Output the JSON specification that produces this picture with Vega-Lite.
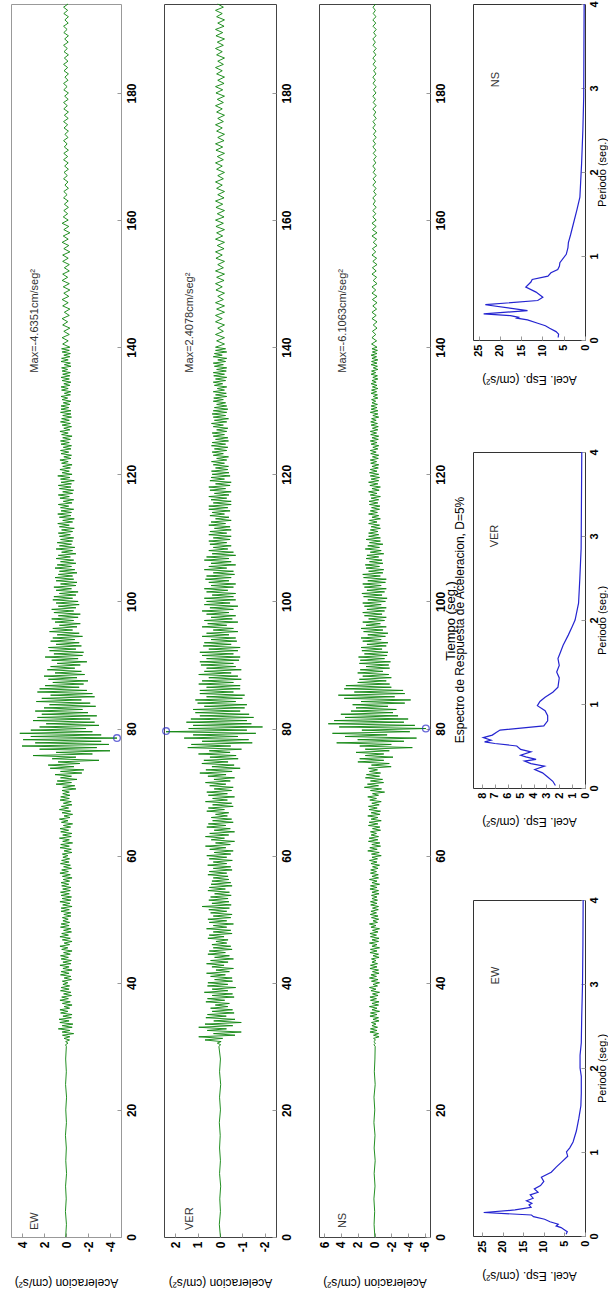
{
"$schema":"https://vega.github.io/schema/vega-lite/v6.json",
"background":"white",
"padding":{"left":10,"top":0,"right":0,"bottom":0},
"bounds":"flush",
"spacing":43,
"config":{"font":"Liberation Sans","view":{"stroke":"#555"},
"axis":{"grid":false,"domain":false,"ticks":true,"tickColor":"#999","tickSize":-4,"tickCount":20,"labelFlush":false,"labelOverlap":false,"labelFont":"Liberation Sans","titleFont":"Liberation Sans","labelFontSize":12,"titleFontSize":12,"titleFontWeight":"normal","labelFontWeight":"bold","labelColor":"#000","titleColor":"#000"},
"title":{"font":"Liberation Sans","fontSize":12,"fontWeight":"normal","color":"#000"}},
"datasets":{
"ts":[
{"t":0,"ew":0.03,"ver":-0.02,"ns":-0.04},{"t":2,"ew":-0.04,"ver":0.03,"ns":0.05},{"t":4,"ew":0.05,"ver":-0.02,"ns":-0.02},{"t":6,"ew":-0.02,"ver":0.01,"ns":0.07},{"t":8,"ew":0.04,"ver":-0.03,"ns":-0.06},{"t":10,"ew":-0.05,"ver":0.02,"ns":0.04},{"t":12,"ew":0.02,"ver":-0.02,"ns":-0.08},{"t":14,"ew":-0.03,"ver":0.02,"ns":0.04},{"t":16,"ew":0.05,"ver":-0.01,"ns":-0.06},{"t":18,"ew":-0.04,"ver":0.03,"ns":0.07},{"t":20,"ew":0.02,"ver":-0.02,"ns":-0.03},{"t":22,"ew":-0.05,"ver":0.02,"ns":0.06},{"t":24,"ew":0.04,"ver":-0.03,"ns":-0.08},{"t":26,"ew":-0.03,"ver":0.02,"ns":0.02},{"t":28,"ew":0.03,"ver":-0.02,"ns":-0.05},
{"t":30,"ew":-0.03,"ver":0.05,"ns":-0.08},{"t":30.25,"ew":0.04,"ver":-0.03,"ns":0.06},{"t":30.5,"ew":-0.18,"ver":0.12,"ns":-0.11},{"t":30.75,"ew":0.03,"ver":-0.05,"ns":0.08},{"t":31,"ew":-0.32,"ver":0.67,"ns":-0.12},{"t":31.25,"ew":0.18,"ver":-0.12,"ns":0.11},{"t":31.5,"ew":-0.35,"ver":0.95,"ns":-0.54},{"t":31.75,"ew":0.32,"ver":-0.67,"ns":0.12},{"t":32,"ew":-0.7,"ver":0.29,"ns":-0.48},{"t":32.25,"ew":0.35,"ver":-0.95,"ns":0.54},{"t":32.5,"ew":-0.35,"ver":0.57,"ns":-0.3},{"t":32.75,"ew":0.7,"ver":-0.29,"ns":0.48},{"t":33,"ew":-0.56,"ver":0.95,"ns":-0.36},{"t":33.25,"ew":0.35,"ver":-0.57,"ns":0.3},{"t":33.5,"ew":-0.63,"ver":0.67,"ns":-0.18},{"t":33.75,"ew":0.56,"ver":-0.95,"ns":0.36},{"t":34,"ew":-0.28,"ver":0.28,"ns":-0.54},{"t":34.25,"ew":0.63,"ver":-0.67,"ns":0.18},{"t":34.5,"ew":-0.49,"ver":0.63,"ns":-0.48},{"t":34.75,"ew":0.28,"ver":-0.28,"ns":0.54},
{"t":35,"ew":-0.55,"ver":0.56,"ns":-0.3},{"t":35.25,"ew":0.49,"ver":-0.63,"ns":0.48},{"t":35.5,"ew":-0.17,"ver":0.35,"ns":-0.6},{"t":35.75,"ew":0.55,"ver":-0.56,"ns":0.3},{"t":36,"ew":-0.33,"ver":0.42,"ns":-0.3},{"t":36.25,"ew":0.17,"ver":-0.35,"ns":0.6},{"t":36.5,"ew":-0.55,"ver":0.21,"ns":-0.48},{"t":36.75,"ew":0.33,"ver":-0.42,"ns":0.3},{"t":37,"ew":-0.39,"ver":0.63,"ns":-0.54},{"t":37.25,"ew":0.55,"ver":-0.21,"ns":0.48},{"t":37.5,"ew":-0.22,"ver":0.56,"ns":-0.24},{"t":37.75,"ew":0.39,"ver":-0.63,"ns":0.54},{"t":38,"ew":-0.5,"ver":0.35,"ns":-0.42},{"t":38.25,"ew":0.22,"ver":-0.56,"ns":0.24},{"t":38.5,"ew":-0.44,"ver":0.7,"ns":-0.6},{"t":38.75,"ew":0.5,"ver":-0.35,"ns":0.42},{"t":39,"ew":-0.28,"ver":0.35,"ns":-0.18},{"t":39.25,"ew":0.44,"ver":-0.7,"ns":0.6},{"t":39.5,"ew":-0.33,"ver":0.56,"ns":-0.36},{"t":39.75,"ew":0.28,"ver":-0.35,"ns":0.18},
{"t":40,"ew":-0.17,"ver":0.54,"ns":-0.6},{"t":40.25,"ew":0.33,"ver":-0.56,"ns":0.36},{"t":40.5,"ew":-0.5,"ver":0.24,"ns":-0.42},{"t":40.75,"ew":0.17,"ver":-0.54,"ns":0.6},{"t":41,"ew":-0.44,"ver":0.42,"ns":-0.24},{"t":41.25,"ew":0.5,"ver":-0.24,"ns":0.42},{"t":41.5,"ew":-0.28,"ver":0.6,"ns":-0.54},{"t":41.75,"ew":0.44,"ver":-0.42,"ns":0.24},{"t":42,"ew":-0.55,"ver":0.18,"ns":-0.48},{"t":42.25,"ew":0.28,"ver":-0.6,"ns":0.54},{"t":42.5,"ew":-0.28,"ver":0.36,"ns":-0.3},{"t":42.75,"ew":0.55,"ver":-0.18,"ns":0.48},{"t":43,"ew":-0.44,"ver":0.6,"ns":-0.36},{"t":43.25,"ew":0.28,"ver":-0.36,"ns":0.3},{"t":43.5,"ew":-0.5,"ver":0.42,"ns":-0.18},{"t":43.75,"ew":0.44,"ver":-0.6,"ns":0.36},{"t":44,"ew":-0.22,"ver":0.24,"ns":-0.54},{"t":44.25,"ew":0.5,"ver":-0.42,"ns":0.18},{"t":44.5,"ew":-0.39,"ver":0.54,"ns":-0.48},{"t":44.75,"ew":0.22,"ver":-0.24,"ns":0.54},
{"t":45,"ew":-0.55,"ver":0.48,"ns":-0.3},{"t":45.25,"ew":0.39,"ver":-0.54,"ns":0.48},{"t":45.5,"ew":-0.17,"ver":0.3,"ns":-0.6},{"t":45.75,"ew":0.55,"ver":-0.48,"ns":0.3},{"t":46,"ew":-0.33,"ver":0.36,"ns":-0.3},{"t":46.25,"ew":0.17,"ver":-0.3,"ns":0.6},{"t":46.5,"ew":-0.55,"ver":0.18,"ns":-0.48},{"t":46.75,"ew":0.33,"ver":-0.36,"ns":0.3},{"t":47,"ew":-0.39,"ver":0.54,"ns":-0.54},{"t":47.25,"ew":0.55,"ver":-0.18,"ns":0.48},{"t":47.5,"ew":-0.22,"ver":0.48,"ns":-0.24},{"t":47.75,"ew":0.39,"ver":-0.54,"ns":0.54},{"t":48,"ew":-0.5,"ver":0.3,"ns":-0.42},{"t":48.25,"ew":0.22,"ver":-0.48,"ns":0.24},{"t":48.5,"ew":-0.44,"ver":0.6,"ns":-0.6},{"t":48.75,"ew":0.5,"ver":-0.3,"ns":0.42},{"t":49,"ew":-0.28,"ver":0.3,"ns":-0.18},{"t":49.25,"ew":0.44,"ver":-0.6,"ns":0.6},{"t":49.5,"ew":-0.33,"ver":0.48,"ns":-0.36},{"t":49.75,"ew":0.28,"ver":-0.3,"ns":0.18},
{"t":50,"ew":-0.2,"ver":0.54,"ns":-0.5},{"t":50.25,"ew":0.33,"ver":-0.48,"ns":0.36},{"t":50.5,"ew":-0.45,"ver":0.3,"ns":-0.42},{"t":50.75,"ew":0.2,"ver":-0.54,"ns":0.5},{"t":51,"ew":-0.44,"ver":0.42,"ns":-0.24},{"t":51.25,"ew":0.45,"ver":-0.3,"ns":0.42},{"t":51.5,"ew":-0.3,"ver":0.5,"ns":-0.45},{"t":51.75,"ew":0.44,"ver":-0.42,"ns":0.24},{"t":52,"ew":-0.55,"ver":0.8,"ns":-0.48},{"t":52.25,"ew":0.3,"ver":-0.5,"ns":0.45},{"t":52.5,"ew":-0.35,"ver":0.36,"ns":-0.3},{"t":52.75,"ew":0.55,"ver":-0.4,"ns":0.48},{"t":53,"ew":-0.44,"ver":0.5,"ns":-0.36},{"t":53.25,"ew":0.35,"ver":-0.36,"ns":0.3},{"t":53.5,"ew":-0.5,"ver":0.42,"ns":-0.3},{"t":53.75,"ew":0.44,"ver":-0.5,"ns":0.36},{"t":54,"ew":-0.3,"ver":0.24,"ns":-0.54},{"t":54.25,"ew":0.5,"ver":-0.42,"ns":0.3},{"t":54.5,"ew":-0.39,"ver":0.54,"ns":-0.48},{"t":54.75,"ew":0.3,"ver":-0.24,"ns":0.54},
{"t":55,"ew":-0.45,"ver":0.48,"ns":-0.3},{"t":55.25,"ew":0.39,"ver":-0.54,"ns":0.48},{"t":55.5,"ew":-0.25,"ver":0.4,"ns":-0.6},{"t":55.75,"ew":0.45,"ver":-0.48,"ns":0.3},{"t":56,"ew":-0.33,"ver":0.36,"ns":-0.3},{"t":56.25,"ew":0.25,"ver":-0.4,"ns":0.6},{"t":56.5,"ew":-0.55,"ver":0.3,"ns":-0.48},{"t":56.75,"ew":0.33,"ver":-0.36,"ns":0.3},{"t":57,"ew":-0.39,"ver":0.54,"ns":-0.45},{"t":57.25,"ew":0.55,"ver":-0.3,"ns":0.48},{"t":57.5,"ew":-0.22,"ver":0.48,"ns":-0.24},{"t":57.75,"ew":0.39,"ver":-0.54,"ns":0.45},{"t":58,"ew":-0.5,"ver":0.3,"ns":-0.42},{"t":58.25,"ew":0.22,"ver":-0.48,"ns":0.24},{"t":58.5,"ew":-0.4,"ver":0.55,"ns":-0.6},{"t":58.75,"ew":0.5,"ver":-0.3,"ns":0.42},{"t":59,"ew":-0.28,"ver":0.3,"ns":-0.3},{"t":59.25,"ew":0.4,"ver":-0.55,"ns":0.6},{"t":59.5,"ew":-0.33,"ver":0.48,"ns":-0.36},{"t":59.75,"ew":0.28,"ver":-0.3,"ns":0.3},
{"t":60,"ew":-0.18,"ver":0.59,"ns":-0.8},{"t":60.25,"ew":0.33,"ver":-0.48,"ns":0.36},{"t":60.5,"ew":-0.54,"ver":0.26,"ns":-0.56},{"t":60.75,"ew":0.18,"ver":-0.59,"ns":0.8},{"t":61,"ew":-0.48,"ver":0.46,"ns":-0.32},{"t":61.25,"ew":0.54,"ver":-0.26,"ns":0.56},{"t":61.5,"ew":-0.3,"ver":0.65,"ns":-0.72},{"t":61.75,"ew":0.48,"ver":-0.46,"ns":0.32},{"t":62,"ew":-0.6,"ver":0.2,"ns":-0.64},{"t":62.25,"ew":0.3,"ver":-0.65,"ns":0.72},{"t":62.5,"ew":-0.3,"ver":0.39,"ns":-0.4},{"t":62.75,"ew":0.6,"ver":-0.2,"ns":0.64},{"t":63,"ew":-0.48,"ver":0.65,"ns":-0.48},{"t":63.25,"ew":0.3,"ver":-0.39,"ns":0.4},{"t":63.5,"ew":-0.54,"ver":0.46,"ns":-0.24},{"t":63.75,"ew":0.48,"ver":-0.65,"ns":0.48},{"t":64,"ew":-0.24,"ver":0.26,"ns":-0.72},{"t":64.25,"ew":0.54,"ver":-0.46,"ns":0.24},{"t":64.5,"ew":-0.42,"ver":0.59,"ns":-0.64},{"t":64.75,"ew":0.24,"ver":-0.26,"ns":0.72},
{"t":65,"ew":-0.6,"ver":0.52,"ns":-0.4},{"t":65.25,"ew":0.42,"ver":-0.59,"ns":0.64},{"t":65.5,"ew":-0.18,"ver":0.33,"ns":-0.8},{"t":65.75,"ew":0.6,"ver":-0.52,"ns":0.4},{"t":66,"ew":-0.36,"ver":0.39,"ns":-0.4},{"t":66.25,"ew":0.18,"ver":-0.33,"ns":0.8},{"t":66.5,"ew":-0.6,"ver":0.2,"ns":-0.64},{"t":66.75,"ew":0.36,"ver":-0.39,"ns":0.4},{"t":67,"ew":-0.42,"ver":0.59,"ns":-0.72},{"t":67.25,"ew":0.6,"ver":-0.2,"ns":0.64},{"t":67.5,"ew":-0.24,"ver":0.52,"ns":-0.32},{"t":67.75,"ew":0.42,"ver":-0.59,"ns":0.72},{"t":68,"ew":-0.54,"ver":0.33,"ns":-0.56},{"t":68.25,"ew":0.24,"ver":-0.52,"ns":0.32},{"t":68.5,"ew":-0.48,"ver":0.65,"ns":-0.8},{"t":68.75,"ew":0.54,"ver":-0.33,"ns":0.56},{"t":69,"ew":-0.3,"ver":0.33,"ns":-0.24},{"t":69.25,"ew":0.48,"ver":-0.65,"ns":0.8},{"t":69.5,"ew":-0.36,"ver":0.52,"ns":-0.48},{"t":69.75,"ew":0.3,"ver":-0.33,"ns":0.24},
{"t":70,"ew":-0.3,"ver":0.59,"ns":-1.2},{"t":70.25,"ew":0.36,"ver":-0.52,"ns":0.48},{"t":70.5,"ew":-0.9,"ver":0.26,"ns":-0.84},{"t":70.75,"ew":0.3,"ver":-0.59,"ns":1.2},{"t":71,"ew":-0.8,"ver":0.46,"ns":-0.48},{"t":71.25,"ew":0.9,"ver":-0.26,"ns":0.84},{"t":71.5,"ew":-0.5,"ver":0.65,"ns":-1.08},{"t":71.75,"ew":0.8,"ver":-0.46,"ns":0.48},{"t":72,"ew":-1.0,"ver":0.27,"ns":-0.96},{"t":72.25,"ew":0.5,"ver":-0.65,"ns":1.08},{"t":72.5,"ew":-0.5,"ver":0.54,"ns":-0.6},{"t":72.75,"ew":1.0,"ver":-0.27,"ns":0.96},{"t":73,"ew":-1.44,"ver":0.9,"ns":-0.72},{"t":73.25,"ew":0.5,"ver":-0.54,"ns":0.6},{"t":73.5,"ew":-1.62,"ver":0.63,"ns":-0.36},{"t":73.75,"ew":1.44,"ver":-0.9,"ns":0.72},{"t":74,"ew":-0.72,"ver":0.36,"ns":-1.98},{"t":74.25,"ew":1.62,"ver":-0.63,"ns":0.36},{"t":74.5,"ew":-1.26,"ver":0.81,"ns":-1.76},{"t":74.75,"ew":0.72,"ver":-0.36,"ns":1.98},
{"t":75,"ew":-3.0,"ver":0.72,"ns":-1.1},{"t":75.25,"ew":1.26,"ver":-0.81,"ns":1.76},{"t":75.5,"ew":-0.9,"ver":0.45,"ns":-2.2},{"t":75.75,"ew":3.0,"ver":-0.72,"ns":1.1},{"t":76,"ew":-2.4,"ver":0.96,"ns":-1.1},{"t":76.25,"ew":0.9,"ver":-0.45,"ns":2.2},{"t":76.5,"ew":-4.0,"ver":0.48,"ns":-1.76},{"t":76.75,"ew":2.4,"ver":-0.96,"ns":1.1},{"t":77,"ew":-2.8,"ver":1.44,"ns":-4.5},{"t":77.25,"ew":4.0,"ver":-0.48,"ns":1.76},{"t":77.5,"ew":-3.9,"ver":1.28,"ns":-2.0},{"t":77.75,"ew":2.8,"ver":-1.44,"ns":4.5},{"t":78,"ew":-3.2,"ver":0.8,"ns":-3.5},{"t":78.25,"ew":3.9,"ver":-1.28,"ns":2.0},{"t":78.5,"ew":-4.6351,"ver":1.6,"ns":-5.0},{"t":78.75,"ew":3.2,"ver":-0.8,"ns":3.5},{"t":79,"ew":-3.2,"ver":1.2,"ns":-1.5},{"t":79.25,"ew":4.2,"ver":-1.6,"ns":5.0},{"t":79.5,"ew":-2.4,"ver":2.4078,"ns":-4.2},{"t":79.75,"ew":3.2,"ver":-1.2,"ns":1.5},
{"t":80,"ew":-1.8,"ver":1.4,"ns":-6.1063},{"t":80.25,"ew":2.4,"ver":-1.9,"ns":4.2},{"t":80.5,"ew":-3.0,"ver":1.2,"ns":-4.8},{"t":80.75,"ew":1.8,"ver":-1.4,"ns":5.5},{"t":81,"ew":-2.6,"ver":1.5,"ns":-3.5},{"t":81.25,"ew":3.0,"ver":-1.2,"ns":4.8},{"t":81.5,"ew":-2.2,"ver":1.3,"ns":-4.0},{"t":81.75,"ew":2.6,"ver":-1.5,"ns":3.5},{"t":82,"ew":-2.8,"ver":0.9,"ns":-2.8},{"t":82.25,"ew":2.2,"ver":-1.3,"ns":4.0},{"t":82.5,"ew":-2.0,"ver":1.1,"ns":-2.2},{"t":82.75,"ew":2.8,"ver":-0.9,"ns":2.8},{"t":83,"ew":-1.5,"ver":1.2,"ns":-2.6},{"t":83.25,"ew":2.0,"ver":-1.1,"ns":2.2},{"t":83.5,"ew":-2.7,"ver":0.7,"ns":-1.6},{"t":83.75,"ew":1.5,"ver":-1.2,"ns":2.6},{"t":84,"ew":-2.2,"ver":1.0,"ns":-3.6},{"t":84.25,"ew":2.7,"ver":-0.7,"ns":1.6},{"t":84.5,"ew":-1.4,"ver":1.1,"ns":-4.3},{"t":84.75,"ew":2.2,"ver":-1.0,"ns":3.6},
{"t":85,"ew":-2.6,"ver":0.6,"ns":-2.4},{"t":85.25,"ew":1.4,"ver":-1.1,"ns":4.3},{"t":85.5,"ew":-2.4,"ver":0.9,"ns":-3.6},{"t":85.75,"ew":2.6,"ver":-0.6,"ns":2.4},{"t":86,"ew":-1.9,"ver":0.9,"ns":-3.4},{"t":86.25,"ew":2.4,"ver":-0.9,"ns":3.6},{"t":86.5,"ew":-1.2,"ver":0.6,"ns":-2.0},{"t":86.75,"ew":1.9,"ver":-0.9,"ns":3.4},{"t":87,"ew":-1.6,"ver":0.95,"ns":-1.8},{"t":87.25,"ew":1.2,"ver":-0.6,"ns":2.0},{"t":87.5,"ew":-2.0,"ver":0.8,"ns":-1.4},{"t":87.75,"ew":1.6,"ver":-0.95,"ns":1.8},{"t":88,"ew":-1.0,"ver":0.5,"ns":-2.0},{"t":88.25,"ew":2.0,"ver":-0.8,"ns":1.4},{"t":88.5,"ew":-1.7,"ver":0.95,"ns":-1.7},{"t":88.75,"ew":1.0,"ver":-0.5,"ns":2.0},{"t":89,"ew":-1.4,"ver":0.7,"ns":-1.0},{"t":89.25,"ew":1.7,"ver":-0.95,"ns":1.7},{"t":89.5,"ew":-0.8,"ver":0.6,"ns":-1.8},{"t":89.75,"ew":1.4,"ver":-0.7,"ns":1.0},
{"t":90,"ew":-1.3,"ver":0.85,"ns":-1.7},{"t":90.25,"ew":0.8,"ver":-0.6,"ns":1.8},{"t":90.5,"ew":-1.9,"ver":0.9,"ns":-1.9},{"t":90.75,"ew":1.3,"ver":-0.85,"ns":1.7},{"t":91,"ew":-1.1,"ver":0.6,"ns":-1.2},{"t":91.25,"ew":1.9,"ver":-0.9,"ns":1.9},{"t":91.5,"ew":-1.5,"ver":0.8,"ns":-1.5},{"t":91.75,"ew":1.1,"ver":-0.6,"ns":1.2},{"t":92,"ew":-1.6,"ver":0.9,"ns":-1.6},{"t":92.25,"ew":1.5,"ver":-0.8,"ns":1.5},{"t":92.5,"ew":-0.9,"ver":0.5,"ns":-0.9},{"t":92.75,"ew":1.6,"ver":-0.9,"ns":1.6},{"t":93,"ew":-1.4,"ver":0.75,"ns":-1.4},{"t":93.25,"ew":0.9,"ver":-0.5,"ns":0.9},{"t":93.5,"ew":-1.2,"ver":0.7,"ns":-1.6},{"t":93.75,"ew":1.4,"ver":-0.75,"ns":1.4},{"t":94,"ew":-0.8,"ver":0.4,"ns":-0.8},{"t":94.25,"ew":1.2,"ver":-0.7,"ns":1.6},{"t":94.5,"ew":-1.5,"ver":0.8,"ns":-1.3},{"t":94.75,"ew":0.8,"ver":-0.4,"ns":0.8},
{"t":95,"ew":-1.2,"ver":0.6,"ns":-1.6},{"t":95.25,"ew":1.5,"ver":-0.8,"ns":1.3},{"t":95.5,"ew":-0.6,"ver":0.3,"ns":-1.0},{"t":95.75,"ew":1.2,"ver":-0.6,"ns":1.6},{"t":96,"ew":-1.0,"ver":0.8,"ns":-1.4},{"t":96.25,"ew":0.6,"ver":-0.3,"ns":1.0},{"t":96.5,"ew":-1.3,"ver":0.55,"ns":-0.7},{"t":96.75,"ew":1.0,"ver":-0.8,"ns":1.4},{"t":97,"ew":-0.7,"ver":0.7,"ns":-1.2},{"t":97.25,"ew":1.3,"ver":-0.55,"ns":0.7},{"t":97.5,"ew":-1.1,"ver":0.4,"ns":-1.4},{"t":97.75,"ew":0.7,"ver":-0.7,"ns":1.2},{"t":98,"ew":-1.3,"ver":0.6,"ns":-0.9},{"t":98.25,"ew":1.1,"ver":-0.4,"ns":1.4},{"t":98.5,"ew":-0.7,"ver":0.8,"ns":-1.2},{"t":98.75,"ew":1.3,"ver":-0.6,"ns":0.9},{"t":99,"ew":-0.9,"ver":0.45,"ns":-1.4},{"t":99.25,"ew":0.7,"ver":-0.8,"ns":1.2},{"t":99.5,"ew":-1.2,"ver":0.7,"ns":-0.8},{"t":99.75,"ew":0.9,"ver":-0.45,"ns":1.4},
{"t":100,"ew":-1.1,"ver":0.6,"ns":-1.3},{"t":100.25,"ew":1.2,"ver":-0.7,"ns":0.8},{"t":100.5,"ew":-0.6,"ver":0.7,"ns":-1.5},{"t":100.75,"ew":1.1,"ver":-0.6,"ns":1.3},{"t":101,"ew":-0.9,"ver":0.35,"ns":-0.9},{"t":101.25,"ew":0.6,"ver":-0.7,"ns":1.5},{"t":101.5,"ew":-1.1,"ver":0.6,"ns":-1.2},{"t":101.75,"ew":0.9,"ver":-0.35,"ns":0.9},{"t":102,"ew":-0.5,"ver":0.7,"ns":-1.4},{"t":102.25,"ew":1.1,"ver":-0.6,"ns":1.2},{"t":102.5,"ew":-0.9,"ver":0.4,"ns":-0.8},{"t":102.75,"ew":0.5,"ver":-0.7,"ns":1.4},{"t":103,"ew":-1.0,"ver":0.5,"ns":-1.3},{"t":103.25,"ew":0.9,"ver":-0.4,"ns":0.8},{"t":103.5,"ew":-0.7,"ver":0.65,"ns":-1.4},{"t":103.75,"ew":1.0,"ver":-0.5,"ns":1.3},{"t":104,"ew":-0.6,"ver":0.6,"ns":-0.7},{"t":104.25,"ew":0.7,"ver":-0.65,"ns":1.4},{"t":104.5,"ew":-1.0,"ver":0.3,"ns":-1.0},{"t":104.75,"ew":0.6,"ver":-0.6,"ns":0.7},
{"t":105,"ew":-0.8,"ver":0.7,"ns":-1.1},{"t":105.25,"ew":1.0,"ver":-0.3,"ns":1.0},{"t":105.5,"ew":-0.5,"ver":0.5,"ns":-0.6},{"t":105.75,"ew":0.8,"ver":-0.7,"ns":1.1},{"t":106,"ew":-0.9,"ver":0.4,"ns":-1.0},{"t":106.25,"ew":0.5,"ver":-0.5,"ns":0.6},{"t":106.5,"ew":-0.7,"ver":0.7,"ns":-0.9},{"t":106.75,"ew":0.9,"ver":-0.4,"ns":1.0},{"t":107,"ew":-0.4,"ver":0.6,"ns":-0.5},{"t":107.25,"ew":0.7,"ver":-0.7,"ns":0.9},{"t":107.5,"ew":-0.9,"ver":0.35,"ns":-1.1},{"t":107.75,"ew":0.4,"ver":-0.6,"ns":0.5},{"t":108,"ew":-0.6,"ver":0.5,"ns":-0.8},{"t":108.25,"ew":0.9,"ver":-0.35,"ns":1.1},{"t":108.5,"ew":-0.8,"ver":0.3,"ns":-0.6},{"t":108.75,"ew":0.6,"ver":-0.5,"ns":0.8},{"t":109,"ew":-0.5,"ver":0.45,"ns":-1.0},{"t":109.25,"ew":0.8,"ver":-0.3,"ns":0.6},{"t":109.5,"ew":-0.6,"ver":0.5,"ns":-0.7},{"t":109.75,"ew":0.5,"ver":-0.45,"ns":1.0},
{"t":110,"ew":-0.7,"ver":0.3,"ns":-0.7},{"t":110.25,"ew":0.6,"ver":-0.5,"ns":0.7},{"t":110.5,"ew":-0.4,"ver":0.5,"ns":-0.5},{"t":110.75,"ew":0.7,"ver":-0.3,"ns":0.7},{"t":111,"ew":-0.6,"ver":0.45,"ns":-0.4},{"t":111.25,"ew":0.4,"ver":-0.5,"ns":0.5},{"t":111.5,"ew":-0.75,"ver":0.25,"ns":-0.7},{"t":111.75,"ew":0.6,"ver":-0.45,"ns":0.4},{"t":112,"ew":-0.3,"ver":0.5,"ns":-0.6},{"t":112.25,"ew":0.75,"ver":-0.25,"ns":0.7},{"t":112.5,"ew":-0.6,"ver":0.4,"ns":-0.3},{"t":112.75,"ew":0.3,"ver":-0.5,"ns":0.6},{"t":113,"ew":-0.75,"ver":0.2,"ns":-0.7},{"t":113.25,"ew":0.6,"ver":-0.4,"ns":0.3},{"t":113.5,"ew":-0.45,"ver":0.45,"ns":-0.5},{"t":113.75,"ew":0.75,"ver":-0.2,"ns":0.7},{"t":114,"ew":-0.5,"ver":0.35,"ns":-0.35},{"t":114.25,"ew":0.45,"ver":-0.45,"ns":0.5},{"t":114.5,"ew":-0.7,"ver":0.5,"ns":-0.6},{"t":114.75,"ew":0.5,"ver":-0.35,"ns":0.35},
{"t":115,"ew":-0.25,"ver":0.5,"ns":-0.65},{"t":115.25,"ew":0.7,"ver":-0.5,"ns":0.6},{"t":115.5,"ew":-0.55,"ver":0.3,"ns":-0.4},{"t":115.75,"ew":0.25,"ver":-0.5,"ns":0.65},{"t":116,"ew":-0.7,"ver":0.4,"ns":-0.5},{"t":116.25,"ew":0.55,"ver":-0.3,"ns":0.4},{"t":116.5,"ew":-0.3,"ver":0.5,"ns":-0.7},{"t":116.75,"ew":0.7,"ver":-0.4,"ns":0.5},{"t":117,"ew":-0.6,"ver":0.25,"ns":-0.3},{"t":117.25,"ew":0.3,"ver":-0.5,"ns":0.7},{"t":117.5,"ew":-0.7,"ver":0.45,"ns":-0.55},{"t":117.75,"ew":0.6,"ver":-0.25,"ns":0.3},{"t":118,"ew":-0.45,"ver":0.5,"ns":-0.7},{"t":118.25,"ew":0.7,"ver":-0.45,"ns":0.55},{"t":118.5,"ew":-0.5,"ver":0.2,"ns":-0.4},{"t":118.75,"ew":0.45,"ver":-0.5,"ns":0.7},{"t":119,"ew":-0.75,"ver":0.45,"ns":-0.5},{"t":119.25,"ew":0.5,"ver":-0.2,"ns":0.4},{"t":119.5,"ew":-0.35,"ver":0.4,"ns":-0.6},{"t":119.75,"ew":0.75,"ver":-0.45,"ns":0.5},
{"t":120,"ew":-0.55,"ver":0.35,"ns":-0.5},{"t":120.25,"ew":0.35,"ver":-0.4,"ns":0.6},{"t":120.5,"ew":-0.3,"ver":0.38,"ns":-0.3},{"t":120.75,"ew":0.55,"ver":-0.35,"ns":0.5},{"t":121,"ew":-0.4,"ver":0.2,"ns":-0.45},{"t":121.25,"ew":0.3,"ver":-0.38,"ns":0.3},{"t":121.5,"ew":-0.55,"ver":0.3,"ns":-0.5},{"t":121.75,"ew":0.4,"ver":-0.2,"ns":0.45},{"t":122,"ew":-0.2,"ver":0.38,"ns":-0.25},{"t":122.25,"ew":0.55,"ver":-0.3,"ns":0.5},{"t":122.5,"ew":-0.45,"ver":0.15,"ns":-0.45},{"t":122.75,"ew":0.2,"ver":-0.38,"ns":0.25},{"t":123,"ew":-0.5,"ver":0.3,"ns":-0.5},{"t":123.25,"ew":0.45,"ver":-0.15,"ns":0.45},{"t":123.5,"ew":-0.25,"ver":0.35,"ns":-0.2},{"t":123.75,"ew":0.5,"ver":-0.3,"ns":0.5},{"t":124,"ew":-0.45,"ver":0.25,"ns":-0.4},{"t":124.25,"ew":0.25,"ver":-0.35,"ns":0.2},{"t":124.5,"ew":-0.5,"ver":0.38,"ns":-0.5},{"t":124.75,"ew":0.45,"ver":-0.25,"ns":0.4},
{"t":125,"ew":-0.3,"ver":0.35,"ns":-0.3},{"t":125.25,"ew":0.5,"ver":-0.38,"ns":0.5},{"t":125.5,"ew":-0.4,"ver":0.2,"ns":-0.45},{"t":125.75,"ew":0.3,"ver":-0.35,"ns":0.3},{"t":126,"ew":-0.55,"ver":0.3,"ns":-0.5},{"t":126.25,"ew":0.4,"ver":-0.2,"ns":0.45},{"t":126.5,"ew":-0.2,"ver":0.35,"ns":-0.25},{"t":126.75,"ew":0.55,"ver":-0.3,"ns":0.5},{"t":127,"ew":-0.35,"ver":0.15,"ns":-0.4},{"t":127.25,"ew":0.2,"ver":-0.35,"ns":0.25},{"t":127.5,"ew":-0.5,"ver":0.3,"ns":-0.45},{"t":127.75,"ew":0.35,"ver":-0.15,"ns":0.4},{"t":128,"ew":-0.4,"ver":0.38,"ns":-0.35},{"t":128.25,"ew":0.5,"ver":-0.3,"ns":0.45},{"t":128.5,"ew":-0.3,"ver":0.25,"ns":-0.2},{"t":128.75,"ew":0.4,"ver":-0.38,"ns":0.35},{"t":129,"ew":-0.5,"ver":0.3,"ns":-0.5},{"t":129.25,"ew":0.3,"ver":-0.25,"ns":0.2},{"t":129.5,"ew":-0.45,"ver":0.35,"ns":-0.4},{"t":129.75,"ew":0.5,"ver":-0.3,"ns":0.5},
{"t":130,"ew":-0.45,"ver":0.3,"ns":-0.4},{"t":130.25,"ew":0.45,"ver":-0.35,"ns":0.4},{"t":130.5,"ew":-0.25,"ver":0.25,"ns":-0.3},{"t":130.75,"ew":0.45,"ver":-0.3,"ns":0.4},{"t":131,"ew":-0.35,"ver":0.15,"ns":-0.35},{"t":131.25,"ew":0.25,"ver":-0.25,"ns":0.3},{"t":131.5,"ew":-0.45,"ver":0.3,"ns":-0.15},{"t":131.75,"ew":0.35,"ver":-0.15,"ns":0.35},{"t":132,"ew":-0.15,"ver":0.28,"ns":-0.4},{"t":132.25,"ew":0.45,"ver":-0.3,"ns":0.15},{"t":132.5,"ew":-0.4,"ver":0.2,"ns":-0.35},{"t":132.75,"ew":0.15,"ver":-0.28,"ns":0.4},{"t":133,"ew":-0.45,"ver":0.3,"ns":-0.25},{"t":133.25,"ew":0.4,"ver":-0.2,"ns":0.35},{"t":133.5,"ew":-0.2,"ver":0.12,"ns":-0.4},{"t":133.75,"ew":0.45,"ver":-0.3,"ns":0.25},{"t":134,"ew":-0.35,"ver":0.25,"ns":-0.3},{"t":134.25,"ew":0.2,"ver":-0.12,"ns":0.4},{"t":134.5,"ew":-0.45,"ver":0.3,"ns":-0.2},{"t":134.75,"ew":0.35,"ver":-0.25,"ns":0.3},
{"t":135,"ew":-0.3,"ver":0.2,"ns":-0.4},{"t":135.25,"ew":0.45,"ver":-0.3,"ns":0.2},{"t":135.5,"ew":-0.35,"ver":0.28,"ns":-0.35},{"t":135.75,"ew":0.3,"ver":-0.2,"ns":0.4},{"t":136,"ew":-0.4,"ver":0.3,"ns":-0.15},{"t":136.25,"ew":0.35,"ver":-0.28,"ns":0.35},{"t":136.5,"ew":-0.15,"ver":0.15,"ns":-0.4},{"t":136.75,"ew":0.4,"ver":-0.3,"ns":0.15},{"t":137,"ew":-0.45,"ver":0.25,"ns":-0.35},{"t":137.25,"ew":0.15,"ver":-0.15,"ns":0.4},{"t":137.5,"ew":-0.4,"ver":0.3,"ns":-0.3},{"t":137.75,"ew":0.45,"ver":-0.25,"ns":0.35},{"t":138,"ew":-0.2,"ver":0.1,"ns":-0.4},{"t":138.25,"ew":0.4,"ver":-0.3,"ns":0.3},{"t":138.5,"ew":-0.35,"ver":0.3,"ns":-0.25},{"t":138.75,"ew":0.2,"ver":-0.1,"ns":0.4},{"t":139,"ew":-0.4,"ver":0.25,"ns":-0.3},{"t":139.25,"ew":0.35,"ver":-0.3,"ns":0.25},{"t":139.5,"ew":-0.3,"ver":0.2,"ns":-0.35},{"t":139.75,"ew":0.4,"ver":-0.25,"ns":0.3},
{"t":140,"ew":-0.35,"ver":0.2,"ns":-0.3},{"t":140.5,"ew":0.3,"ver":-0.2,"ns":0.35},{"t":141,"ew":-0.2,"ver":0.15,"ns":-0.25},{"t":141.5,"ew":0.35,"ver":-0.2,"ns":0.3},{"t":142,"ew":-0.3,"ver":0.2,"ns":-0.15},{"t":142.5,"ew":0.2,"ver":-0.15,"ns":0.25},{"t":143,"ew":-0.35,"ver":0.1,"ns":-0.3},{"t":143.5,"ew":0.3,"ver":-0.2,"ns":0.15},{"t":144,"ew":-0.15,"ver":0.2,"ns":-0.3},{"t":144.5,"ew":0.35,"ver":-0.1,"ns":0.3},{"t":145,"ew":-0.3,"ver":0.2,"ns":-0.2},{"t":145.5,"ew":0.15,"ver":-0.2,"ns":0.3},{"t":146,"ew":-0.35,"ver":0.15,"ns":-0.25},{"t":146.5,"ew":0.3,"ver":-0.2,"ns":0.2},{"t":147,"ew":-0.2,"ver":0.2,"ns":-0.3},{"t":147.5,"ew":0.35,"ver":-0.15,"ns":0.25},{"t":148,"ew":-0.25,"ver":0.1,"ns":-0.3},{"t":148.5,"ew":0.2,"ver":-0.2,"ns":0.3},{"t":149,"ew":-0.35,"ver":0.18,"ns":-0.15},{"t":149.5,"ew":0.25,"ver":-0.1,"ns":0.3},
{"t":150,"ew":-0.3,"ver":0.2,"ns":-0.3},{"t":150.5,"ew":0.35,"ver":-0.18,"ns":0.15},{"t":151,"ew":-0.15,"ver":0.15,"ns":-0.25},{"t":151.5,"ew":0.3,"ver":-0.2,"ns":0.3},{"t":152,"ew":-0.3,"ver":0.2,"ns":-0.2},{"t":152.5,"ew":0.15,"ver":-0.15,"ns":0.25},{"t":153,"ew":-0.3,"ver":0.1,"ns":-0.3},{"t":153.5,"ew":0.3,"ver":-0.2,"ns":0.2},{"t":154,"ew":-0.2,"ver":0.18,"ns":-0.25},{"t":154.5,"ew":0.3,"ver":-0.1,"ns":0.3},{"t":155,"ew":-0.35,"ver":0.2,"ns":-0.15},{"t":155.5,"ew":0.2,"ver":-0.18,"ns":0.25},{"t":156,"ew":-0.25,"ver":0.12,"ns":-0.3},{"t":156.5,"ew":0.35,"ver":-0.2,"ns":0.15},{"t":157,"ew":-0.2,"ver":0.2,"ns":-0.25},{"t":157.5,"ew":0.25,"ver":-0.12,"ns":0.3},{"t":158,"ew":-0.35,"ver":0.15,"ns":-0.3},{"t":158.5,"ew":0.2,"ver":-0.2,"ns":0.25},{"t":159,"ew":-0.25,"ver":0.18,"ns":-0.2},{"t":159.5,"ew":0.35,"ver":-0.15,"ns":0.3},
{"t":160,"ew":-0.2,"ver":0.2,"ns":-0.2},{"t":160.5,"ew":0.25,"ver":-0.18,"ns":0.2},{"t":161,"ew":-0.15,"ver":0.12,"ns":-0.15},{"t":161.5,"ew":0.2,"ver":-0.2,"ns":0.2},{"t":162,"ew":-0.22,"ver":0.18,"ns":-0.2},{"t":162.5,"ew":0.15,"ver":-0.12,"ns":0.15},{"t":163,"ew":-0.2,"ver":0.2,"ns":-0.1},{"t":163.5,"ew":0.22,"ver":-0.18,"ns":0.2},{"t":164,"ew":-0.1,"ver":0.1,"ns":-0.2},{"t":164.5,"ew":0.2,"ver":-0.2,"ns":0.1},{"t":165,"ew":-0.22,"ver":0.15,"ns":-0.18},{"t":165.5,"ew":0.1,"ver":-0.1,"ns":0.2},{"t":166,"ew":-0.18,"ver":0.2,"ns":-0.15},{"t":166.5,"ew":0.22,"ver":-0.15,"ns":0.18},{"t":167,"ew":-0.12,"ver":0.1,"ns":-0.2},{"t":167.5,"ew":0.18,"ver":-0.2,"ns":0.15},{"t":168,"ew":-0.22,"ver":0.15,"ns":-0.1},{"t":168.5,"ew":0.12,"ver":-0.1,"ns":0.2},{"t":169,"ew":-0.2,"ver":0.2,"ns":-0.15},{"t":169.5,"ew":0.22,"ver":-0.15,"ns":0.1},
{"t":170,"ew":-0.15,"ver":0.12,"ns":-0.2},{"t":170.5,"ew":0.2,"ver":-0.2,"ns":0.15},{"t":171,"ew":-0.22,"ver":0.18,"ns":-0.18},{"t":171.5,"ew":0.15,"ver":-0.12,"ns":0.2},{"t":172,"ew":-0.1,"ver":0.2,"ns":-0.12},{"t":172.5,"ew":0.22,"ver":-0.18,"ns":0.18},{"t":173,"ew":-0.18,"ver":0.1,"ns":-0.2},{"t":173.5,"ew":0.1,"ver":-0.2,"ns":0.12},{"t":174,"ew":-0.22,"ver":0.15,"ns":-0.18},{"t":174.5,"ew":0.18,"ver":-0.1,"ns":0.2},{"t":175,"ew":-0.15,"ver":0.2,"ns":-0.1},{"t":175.5,"ew":0.22,"ver":-0.15,"ns":0.18},{"t":176,"ew":-0.2,"ver":0.1,"ns":-0.2},{"t":176.5,"ew":0.15,"ver":-0.2,"ns":0.1},{"t":177,"ew":-0.22,"ver":0.15,"ns":-0.15},{"t":177.5,"ew":0.2,"ver":-0.1,"ns":0.2},{"t":178,"ew":-0.12,"ver":0.2,"ns":-0.2},{"t":178.5,"ew":0.22,"ver":-0.15,"ns":0.15},{"t":179,"ew":-0.2,"ver":0.12,"ns":-0.12},{"t":179.5,"ew":0.12,"ver":-0.2,"ns":0.2},
{"t":180,"ew":-0.22,"ver":0.18,"ns":-0.18},{"t":180.5,"ew":0.2,"ver":-0.12,"ns":0.12},{"t":181,"ew":-0.1,"ver":0.2,"ns":-0.2},{"t":181.5,"ew":0.22,"ver":-0.18,"ns":0.18},{"t":182,"ew":-0.18,"ver":0.1,"ns":-0.1},{"t":182.5,"ew":0.1,"ver":-0.2,"ns":0.2},{"t":183,"ew":-0.22,"ver":0.15,"ns":-0.18},{"t":183.5,"ew":0.18,"ver":-0.1,"ns":0.1},{"t":184,"ew":-0.15,"ver":0.2,"ns":-0.2},{"t":184.5,"ew":0.22,"ver":-0.15,"ns":0.18},{"t":185,"ew":-0.18,"ver":0.1,"ns":-0.12},{"t":185.5,"ew":0.15,"ver":-0.2,"ns":0.2},{"t":186,"ew":-0.22,"ver":0.15,"ns":-0.18},{"t":186.5,"ew":0.18,"ver":-0.1,"ns":0.12},{"t":187,"ew":-0.12,"ver":0.2,"ns":-0.2},{"t":187.5,"ew":0.22,"ver":-0.15,"ns":0.18},{"t":188,"ew":-0.2,"ver":0.12,"ns":-0.1},{"t":188.5,"ew":0.12,"ver":-0.2,"ns":0.2},{"t":189,"ew":-0.22,"ver":0.18,"ns":-0.18},{"t":189.5,"ew":0.2,"ver":-0.12,"ns":0.1},
{"t":190,"ew":-0.1,"ver":0.2,"ns":-0.2},{"t":190.5,"ew":0.22,"ver":-0.18,"ns":0.18},{"t":191,"ew":-0.2,"ver":0.1,"ns":-0.15},{"t":191.5,"ew":0.1,"ver":-0.2,"ns":0.2},{"t":192,"ew":-0.22,"ver":0.15,"ns":-0.18},{"t":192.5,"ew":0.2,"ver":-0.1,"ns":0.15},{"t":193,"ew":-0.15,"ver":0.2,"ns":-0.1},{"t":193.5,"ew":0.22,"ver":-0.15,"ns":0.18},{"t":194,"ew":-0.18,"ver":0.1,"ns":-0.15}
],
"sew":[{"p":0.02,"a":4.6},{"p":0.05,"a":4.3},{"p":0.08,"a":5.2},{"p":0.1,"a":5.8},{"p":0.12,"a":7.0},{"p":0.14,"a":6.5},{"p":0.17,"a":8.5},{"p":0.2,"a":9.8},{"p":0.23,"a":12.5},{"p":0.25,"a":13.0},{"p":0.28,"a":24.6},{"p":0.31,"a":17.0},{"p":0.34,"a":13.1},{"p":0.37,"a":13.6},{"p":0.39,"a":12.9},{"p":0.42,"a":14.2},{"p":0.45,"a":12.6},{"p":0.49,"a":13.3},{"p":0.52,"a":11.4},{"p":0.56,"a":12.3},{"p":0.6,"a":10.8},{"p":0.65,"a":10.0},{"p":0.7,"a":10.6},{"p":0.76,"a":8.2},{"p":0.82,"a":7.0},{"p":0.88,"a":5.7},{"p":0.95,"a":4.2},{"p":1.0,"a":4.5},{"p":1.05,"a":3.7},{"p":1.12,"a":2.9},{"p":1.25,"a":2.1},{"p":1.4,"a":1.5},{"p":1.55,"a":1.0},{"p":1.7,"a":0.9},{"p":1.9,"a":0.9},{"p":2.0,"a":1.2},{"p":2.15,"a":1.2},{"p":2.3,"a":0.9},{"p":2.6,"a":0.8},{"p":3.0,"a":0.6},{"p":3.5,"a":0.5},{"p":4.0,"a":0.45}],
"sver":[{"p":0.03,"a":2.3},{"p":0.08,"a":2.5},{"p":0.13,"a":2.9},{"p":0.18,"a":3.3},{"p":0.22,"a":3.9},{"p":0.26,"a":3.15},{"p":0.29,"a":4.2},{"p":0.32,"a":4.7},{"p":0.34,"a":3.8},{"p":0.37,"a":4.6},{"p":0.39,"a":5.0},{"p":0.43,"a":4.2},{"p":0.46,"a":5.0},{"p":0.5,"a":5.3},{"p":0.53,"a":7.0},{"p":0.55,"a":7.8},{"p":0.57,"a":7.3},{"p":0.6,"a":7.9},{"p":0.63,"a":7.2},{"p":0.66,"a":6.9},{"p":0.69,"a":6.6},{"p":0.74,"a":3.2},{"p":0.8,"a":2.9},{"p":0.86,"a":2.9},{"p":0.92,"a":3.1},{"p":0.98,"a":3.7},{"p":1.03,"a":3.5},{"p":1.08,"a":3.1},{"p":1.14,"a":2.5},{"p":1.2,"a":2.1},{"p":1.31,"a":2.0},{"p":1.38,"a":2.2},{"p":1.46,"a":2.0},{"p":1.54,"a":2.1},{"p":1.62,"a":1.9},{"p":1.7,"a":1.7},{"p":1.82,"a":1.3},{"p":1.92,"a":1.0},{"p":2.0,"a":0.77},{"p":2.2,"a":0.5},{"p":2.5,"a":0.4},{"p":2.85,"a":0.3},{"p":3.3,"a":0.28},{"p":4.0,"a":0.25}],
"sns":[{"p":0.03,"a":6.3},{"p":0.07,"a":6.2},{"p":0.1,"a":6.8},{"p":0.14,"a":8.3},{"p":0.17,"a":9.3},{"p":0.2,"a":11.1},{"p":0.24,"a":13.5},{"p":0.26,"a":16.0},{"p":0.27,"a":15.6},{"p":0.29,"a":17.5},{"p":0.31,"a":23.8},{"p":0.35,"a":13.5},{"p":0.42,"a":23.4},{"p":0.47,"a":11.1},{"p":0.51,"a":9.9},{"p":0.57,"a":11.5},{"p":0.63,"a":13.9},{"p":0.69,"a":12.7},{"p":0.72,"a":12.4},{"p":0.76,"a":8.7},{"p":0.8,"a":8.0},{"p":0.84,"a":6.4},{"p":0.88,"a":6.0},{"p":0.92,"a":5.9},{"p":1.02,"a":4.4},{"p":1.1,"a":4.0},{"p":1.16,"a":3.9},{"p":1.25,"a":3.4},{"p":1.39,"a":2.7},{"p":1.55,"a":1.9},{"p":1.7,"a":1.2},{"p":1.9,"a":1.0},{"p":2.1,"a":0.8},{"p":2.5,"a":0.5},{"p":2.9,"a":0.3},{"p":3.5,"a":0.25},{"p":4.0,"a":0.2}]
},
"hconcat":[
{"width":110,"height":1233,"view":{"stroke":"#999"},
"layer":[
{"data":{"name":"ts"},"mark":{"type":"line","color":"#0b830b","strokeWidth":0.9},
"encoding":{"y":{"field":"t","type":"quantitative","scale":{"domain":[0,194],"nice":false,"zero":false},"axis":{"orient":"right","values":[0,20,40,60,80,100,120,140,160,180],"format":"d","tickCount":20,"labelOverlap":false,"labelAngle":270,"labelAlign":"center","labelBaseline":"top","labelPadding":9,"title":null}},
"x":{"field":"ew","type":"quantitative","scale":{"domain":[-5,5],"reverse":true,"nice":false,"zero":false},"axis":{"orient":"bottom","values":[4,2,0,-2,-4],"format":"d","tickCount":20,"labelOverlap":false,"labelExpr":"replace(datum.label, '−', '-')","labelAngle":270,"labelAlign":"right","labelBaseline":"middle","labelPadding":8,"title":"Aceleracion (cm/s²)","titleAngle":180,"titleAlign":"center","titleBaseline":"bottom","titlePadding":24}},
"order":{"field":"t","type":"quantitative"}}},
{"data":{"values":[{"t":78.5,"ew":-4.6351}]},"mark":{"type":"point","shape":"circle","filled":false,"color":"#2a2ac8","size":45,"strokeWidth":1.3},"encoding":{"y":{"field":"t","type":"quantitative"},"x":{"field":"ew","type":"quantitative"}}},
{"data":{"values":[{"t":1.1,"ew":2.8,"txt":"EW"},{"t":136,"ew":2.8,"txt":"Max=-4.6351cm/seg²"}]},"mark":{"type":"text","angle":270,"align":"left","baseline":"middle","fontSize":11,"color":"#333"},"encoding":{"y":{"field":"t","type":"quantitative"},"x":{"field":"ew","type":"quantitative"},"text":{"field":"txt"}}}
]},
{"width":112,"height":1233,"view":{"stroke":"#444"},
"layer":[
{"data":{"name":"ts"},"mark":{"type":"line","color":"#0b830b","strokeWidth":0.9},
"encoding":{"y":{"field":"t","type":"quantitative","scale":{"domain":[0,194],"nice":false,"zero":false},"axis":{"orient":"right","values":[0,20,40,60,80,100,120,140,160,180],"format":"d","tickCount":20,"labelOverlap":false,"labelAngle":270,"labelAlign":"center","labelBaseline":"top","labelPadding":9,"title":null}},
"x":{"field":"ver","type":"quantitative","scale":{"domain":[-2.5,2.5],"reverse":true,"nice":false,"zero":false},"axis":{"orient":"bottom","values":[2,1,0,-1,-2],"format":"d","tickCount":20,"labelOverlap":false,"labelExpr":"replace(datum.label, '−', '-')","labelAngle":270,"labelAlign":"right","labelBaseline":"middle","labelPadding":8,"title":"Aceleracion (cm/s²)","titleAngle":180,"titleAlign":"center","titleBaseline":"bottom","titlePadding":24}},
"order":{"field":"t","type":"quantitative"}}},
{"data":{"values":[{"t":79.6,"ver":2.4078}]},"mark":{"type":"point","shape":"circle","filled":false,"color":"#2a2ac8","size":45,"strokeWidth":1.3},"encoding":{"y":{"field":"t","type":"quantitative"},"x":{"field":"ver","type":"quantitative"}}},
{"data":{"values":[{"t":1.1,"ver":1.36,"txt":"VER"},{"t":136,"ver":1.36,"txt":"Max=2.4078cm/seg²"}]},"mark":{"type":"text","angle":270,"align":"left","baseline":"middle","fontSize":11,"color":"#333"},"encoding":{"y":{"field":"t","type":"quantitative"},"x":{"field":"ver","type":"quantitative"},"text":{"field":"txt"}}}
]},
{"width":111,"height":1233,"view":{"stroke":"#444"},
"layer":[
{"data":{"name":"ts"},"mark":{"type":"line","color":"#0b830b","strokeWidth":0.9},
"encoding":{"y":{"field":"t","type":"quantitative","scale":{"domain":[0,194],"nice":false,"zero":false},"axis":{"orient":"right","values":[0,20,40,60,80,100,120,140,160,180],"format":"d","tickCount":20,"labelOverlap":false,"labelAngle":270,"labelAlign":"center","labelBaseline":"top","labelPadding":9,"title":"Tiempo (seg.)","titleAngle":270,"titleAlign":"center","titleBaseline":"top","titlePadding":-2,"titleFontSize":13}},
"x":{"field":"ns","type":"quantitative","scale":{"domain":[-6.6,6.6],"reverse":true,"nice":false,"zero":false},"axis":{"orient":"bottom","values":[6,4,2,0,-2,-4,-6],"format":"d","tickCount":20,"labelOverlap":false,"labelExpr":"replace(datum.label, '−', '-')","labelAngle":270,"labelAlign":"right","labelBaseline":"middle","labelPadding":8,"title":"Aceleracion (cm/s²)","titleAngle":180,"titleAlign":"center","titleBaseline":"bottom","titlePadding":24}},
"order":{"field":"t","type":"quantitative"}}},
{"data":{"values":[{"t":80,"ns":-6.1063}]},"mark":{"type":"point","shape":"circle","filled":false,"color":"#2a2ac8","size":45,"strokeWidth":1.3},"encoding":{"y":{"field":"t","type":"quantitative"},"x":{"field":"ns","type":"quantitative"}}},
{"data":{"values":[{"t":1.4,"ns":3.8,"txt":"NS"},{"t":136,"ns":3.8,"txt":"Max=-6.1063cm/seg²"}]},"mark":{"type":"text","angle":270,"align":"left","baseline":"middle","fontSize":11,"color":"#333"},"encoding":{"y":{"field":"t","type":"quantitative"},"x":{"field":"ns","type":"quantitative"},"text":{"field":"txt"}}}
]},
{"vconcat":[
{"width":112,"height":336,"view":{"stroke":"#333"},
"layer":[
{"data":{"name":"sns"},"mark":{"type":"line","color":"#2424d0","strokeWidth":1.2},
"encoding":{"y":{"field":"p","type":"quantitative","scale":{"domain":[0,4],"nice":false,"zero":false},"axis":{"orient":"right","values":[0,1,2,3,4],"tickCount":20,"format":"d","labelOverlap":false,"labelAngle":270,"labelAlign":"center","labelBaseline":"top","labelPadding":7,"labelFontSize":11,"title":"Periodo (seg.)","titleAngle":270,"titleAlign":"center","titleBaseline":"top","titlePadding":-3,"titleFontSize":11}},
"x":{"field":"a","type":"quantitative","scale":{"domain":[0,26.3],"reverse":true,"nice":false,"zero":false},"axis":{"orient":"bottom","values":[0,5,10,15,20,25],"format":"d","tickCount":20,"labelOverlap":false,"labelAngle":270,"labelAlign":"right","labelBaseline":"middle","labelPadding":8,"labelFontSize":11,"title":"Acel. Esp. (cm/s²)","titleAngle":180,"titleAlign":"center","titleBaseline":"bottom","titlePadding":16}},
"order":{"field":"p","type":"quantitative"}}},
{"data":{"values":[{"p":3.1,"a":21,"txt":"NS"}]},"mark":{"type":"text","angle":270,"align":"center","baseline":"middle","fontSize":11,"color":"#333"},"encoding":{"y":{"field":"p","type":"quantitative"},"x":{"field":"a","type":"quantitative"},"text":{"field":"txt"}}}
]},
{"width":112,"height":336,"view":{"stroke":"#333"},
"title":{"text":"Espectro de Respuesta de Aceleracion, D=5%","orient":"left","anchor":"middle","offset":6,"fontSize":12},
"layer":[
{"data":{"name":"sver"},"mark":{"type":"line","color":"#2424d0","strokeWidth":1.2},
"encoding":{"y":{"field":"p","type":"quantitative","scale":{"domain":[0,4],"nice":false,"zero":false},"axis":{"orient":"right","values":[0,1,2,3,4],"tickCount":20,"format":"d","labelOverlap":false,"labelAngle":270,"labelAlign":"center","labelBaseline":"top","labelPadding":7,"labelFontSize":11,"title":"Periodo (seg.)","titleAngle":270,"titleAlign":"center","titleBaseline":"top","titlePadding":-3,"titleFontSize":11}},
"x":{"field":"a","type":"quantitative","scale":{"domain":[0,8.7],"reverse":true,"nice":false,"zero":false},"axis":{"orient":"bottom","values":[0,1,2,3,4,5,6,7,8],"format":"d","tickCount":20,"labelOverlap":false,"labelAngle":270,"labelAlign":"right","labelBaseline":"middle","labelPadding":8,"labelFontSize":11,"title":"Acel. Esp. (cm/s²)","titleAngle":180,"titleAlign":"center","titleBaseline":"bottom","titlePadding":16}},
"order":{"field":"p","type":"quantitative"}}},
{"data":{"values":[{"p":3.0,"a":7.0,"txt":"VER"}]},"mark":{"type":"text","angle":270,"align":"center","baseline":"middle","fontSize":11,"color":"#333"},"encoding":{"y":{"field":"p","type":"quantitative"},"x":{"field":"a","type":"quantitative"},"text":{"field":"txt"}}}
]},
{"width":112,"height":336,"view":{"stroke":"#333"},
"layer":[
{"data":{"name":"sew"},"mark":{"type":"line","color":"#2424d0","strokeWidth":1.2},
"encoding":{"y":{"field":"p","type":"quantitative","scale":{"domain":[0,4],"nice":false,"zero":false},"axis":{"orient":"right","values":[0,1,2,3,4],"tickCount":20,"format":"d","labelOverlap":false,"labelAngle":270,"labelAlign":"center","labelBaseline":"top","labelPadding":7,"labelFontSize":11,"title":"Periodo (seg.)","titleAngle":270,"titleAlign":"center","titleBaseline":"top","titlePadding":-3,"titleFontSize":11}},
"x":{"field":"a","type":"quantitative","scale":{"domain":[0,27.2],"reverse":true,"nice":false,"zero":false},"axis":{"orient":"bottom","values":[0,5,10,15,20,25],"format":"d","tickCount":20,"labelOverlap":false,"labelAngle":270,"labelAlign":"right","labelBaseline":"middle","labelPadding":8,"labelFontSize":11,"title":"Acel. Esp. (cm/s²)","titleAngle":180,"titleAlign":"center","titleBaseline":"bottom","titlePadding":16}},
"order":{"field":"p","type":"quantitative"}}},
{"data":{"values":[{"p":3.1,"a":21.5,"txt":"EW"}]},"mark":{"type":"text","angle":270,"align":"center","baseline":"middle","fontSize":11,"color":"#333"},"encoding":{"y":{"field":"p","type":"quantitative"},"x":{"field":"a","type":"quantitative"},"text":{"field":"txt"}}}
]}
],"bounds":"flush","spacing":112}
]
}
